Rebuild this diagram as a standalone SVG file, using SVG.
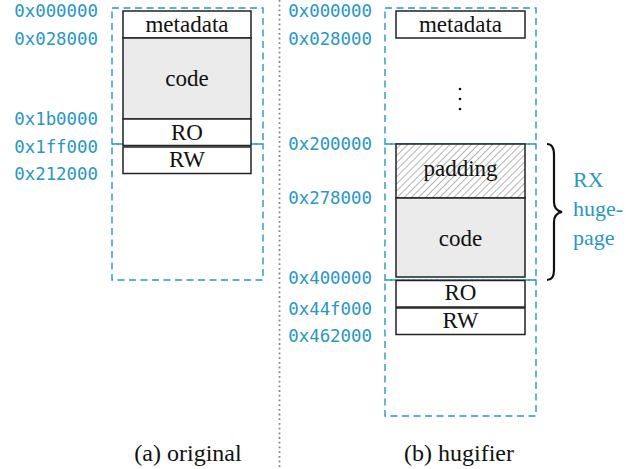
<svg xmlns="http://www.w3.org/2000/svg" width="636" height="469" viewBox="0 0 636 469">
<style>
.addr{font-family:"DejaVu Sans Mono",monospace;font-size:17.4px;fill:#2997c2;text-anchor:end}
.lbl{font-family:"Liberation Serif",serif;font-size:23px;fill:#111;text-anchor:middle}
.cap{font-family:"Liberation Serif",serif;font-size:24px;fill:#111;text-anchor:middle}
.rx{font-family:"Liberation Serif",serif;font-size:22px;fill:#2997c2}
.page{fill:none;stroke:#2997c2;stroke-width:1.4;stroke-dasharray:7 4.5}
.box{stroke:#222;stroke-width:1.5;fill:#fff}
.code{fill:#ebebeb}
.hatch{fill:url(#hatch)}
</style>
<defs>
<pattern id="hatch" patternUnits="userSpaceOnUse" width="5" height="5" patternTransform="rotate(45)">
<rect width="5" height="5" fill="#fff"/>
<line x1="0" y1="0" x2="0" y2="5" stroke="#666" stroke-width="1"/>
</pattern>
</defs>
<line x1="279.5" y1="0" x2="279.5" y2="469" stroke="#888" stroke-width="1.8" stroke-dasharray="1.8 2.9"/>
<g id="pages-left">
<rect class="page" x="112" y="8" width="151" height="136"/>
<rect class="page" x="112" y="144" width="151" height="136"/>
</g>
<g id="pages-right">
<rect class="page" x="385" y="8" width="151" height="136"/>
<rect class="page" x="385" y="144" width="151" height="136"/>
<rect class="page" x="385" y="280" width="151" height="136"/>
</g>
<g id="left-metadata"><rect class="box" x="123" y="11" width="128" height="27"/><text class="lbl" x="187" y="32.3">metadata</text></g>
<g id="left-code"><rect class="box code" x="123" y="38" width="128" height="81"/><text class="lbl" x="187" y="86">code</text></g>
<g id="left-ro"><rect class="box" x="123" y="119" width="128" height="26.5"/><text class="lbl" x="187" y="140">RO</text></g>
<g id="left-rw"><rect class="box" x="123" y="147" width="128" height="26.5"/><text class="lbl" x="187" y="166.7">RW</text></g>
<g id="right-metadata"><rect class="box" x="396" y="11" width="129" height="27"/><text class="lbl" x="460.5" y="32.3">metadata</text></g>
<g id="right-ellipsis" fill="#111"><circle cx="460" cy="89" r="1.3"/><circle cx="460" cy="99" r="1.3"/><circle cx="460" cy="109" r="1.3"/></g>
<g id="right-padding"><rect class="box hatch" x="396" y="144" width="129" height="54"/><text class="lbl" x="460.5" y="176">padding</text></g>
<g id="right-code"><rect class="box code" x="396" y="198" width="129" height="79"/><text class="lbl" x="460.5" y="246">code</text></g>
<g id="right-ro"><rect class="box" x="396" y="280.5" width="129" height="26.5"/><text class="lbl" x="460.5" y="300">RO</text></g>
<g id="right-rw"><rect class="box" x="396" y="308" width="129" height="26.5"/><text class="lbl" x="460.5" y="328">RW</text></g>
<g id="addr-left">
<text class="addr" x="98" y="17.3">0x000000</text>
<text class="addr" x="98" y="45">0x028000</text>
<text class="addr" x="98" y="125.3">0x1b0000</text>
<text class="addr" x="98" y="152.5">0x1ff000</text>
<text class="addr" x="98" y="180.3">0x212000</text>
</g>
<g id="addr-right">
<text class="addr" x="372" y="17.3">0x000000</text>
<text class="addr" x="372" y="45">0x028000</text>
<text class="addr" x="372" y="150">0x200000</text>
<text class="addr" x="372" y="204">0x278000</text>
<text class="addr" x="372" y="284">0x400000</text>
<text class="addr" x="372" y="315">0x44f000</text>
<text class="addr" x="372" y="342">0x462000</text>
</g>
<g id="rx-brace">
<path d="M547,144 C552,144 554,148 554,155 L554,202 C554,208 557,211 562,212 C557,213 554,216 554,222 L554,270 C554,277 552,280 547,280" fill="none" stroke="#111" stroke-width="2.2"/>
<text class="rx" x="573" y="187">RX</text>
<text class="rx" x="573" y="216">huge-</text>
<text class="rx" x="573" y="245">page</text>
</g>
<g id="captions">
<text class="cap" x="188" y="461">(a) original</text>
<text class="cap" x="459" y="461">(b) hugifier</text>
</g>
</svg>
